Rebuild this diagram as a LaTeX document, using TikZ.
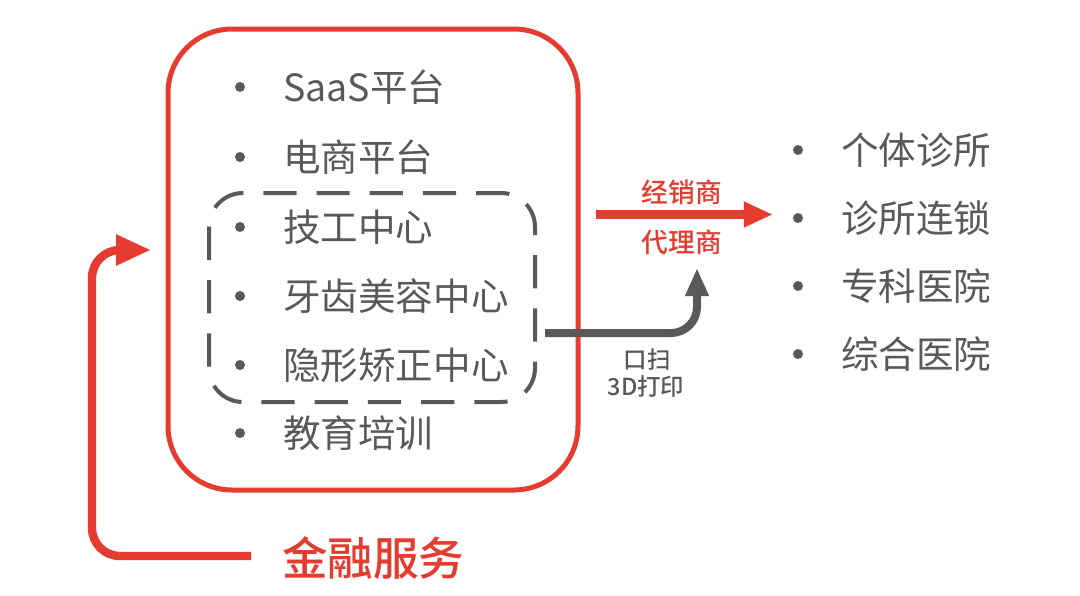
\documentclass[tikz,border=0pt]{standalone}
\usepackage{fontspec}
\setmainfont{Noto Sans CJK SC}[BoldFont={Noto Sans CJK SC Medium}]
\usetikzlibrary{arrows.meta}
\definecolor{finred}{HTML}{E53B30}
\definecolor{itemgray}{HTML}{595959}
\tikzset{
  bulletdot/.style={circle,fill=itemgray,inner sep=0pt,minimum size=2.5mm},
  item/.style={anchor=west,inner sep=0pt,text=itemgray,font=\fontsize{26.7}{30}\selectfont},
  chanlabel/.style={inner sep=0pt,text=finred,font=\bfseries\fontsize{19}{22}\selectfont},
  techlabel/.style={inner sep=0pt,text=itemgray,font=\bfseries\fontsize{16.7}{20}\selectfont},
  redarrow/.style={draw=finred,line width=2.1mm,-{Triangle[length=7.3mm,width=6mm]}},
  grayarrow/.style={draw=itemgray,line width=2mm,rounded corners=6.5mm,-{Triangle[length=7mm,width=5.5mm]}}
}
\begin{document}
\begin{tikzpicture}[x=0.025cm,y=-0.025cm]
  \useasboundingbox (0,0) rectangle (1080,595);
  \draw[finred,line width=1.25mm,rounded corners=1.6cm] (168,29) rectangle (578,490);
  \draw[itemgray,line width=1mm,dash pattern=on 8.3mm off 5mm,rounded corners=0.85cm] (209,193) rectangle (535,402);

  \node[bulletdot] (b1) at (240,87) {};
  \node[item] (saas) at (283,87) {SaaS平台};
  \node[bulletdot] (b2) at (240,157) {};
  \node[item] (shop) at (283,157) {电商平台};
  \node[bulletdot] (b3) at (240,227) {};
  \node[item] (lab) at (283,227) {技工中心};
  \node[bulletdot] (b4) at (240,296) {};
  \node[item] (beauty) at (283,296) {牙齿美容中心};
  \node[bulletdot] (b5) at (240,365) {};
  \node[item] (align) at (283,365) {隐形矫正中心};
  \node[bulletdot] (b6) at (240,433) {};
  \node[item] (edu) at (283,433) {教育培训};

  \node[bulletdot] (c1) at (798,150) {};
  \node[item] (clinic) at (841,150) {个体诊所};
  \node[bulletdot] (c2) at (798,218) {};
  \node[item] (chain) at (841,218) {诊所连锁};
  \node[bulletdot] (c3) at (798,286) {};
  \node[item] (special) at (841,286) {专科医院};
  \node[bulletdot] (c4) at (798,354) {};
  \node[item] (general) at (841,354) {综合医院};

  \coordinate (dealL) at (596,214.5);
  \coordinate (dealR) at (773,214.5);
  \draw[redarrow] (dealL) -- (dealR);
  \node[chanlabel] (dealer) at (682,192) {经销商};
  \node[chanlabel] (agent) at (682,242) {代理商};

  \coordinate (scanL) at (545,333);
  \coordinate (scanT) at (697,268);
  \draw[grayarrow] (scanL) -| (scanT);
  \node[techlabel] (scan) at (647,360) {口扫};
  \node[techlabel] (print) at (646,387) {3D打印};

  \node[anchor=west,inner sep=0pt,text=finred,font=\bfseries\fontsize{32.4}{36}\selectfont] (fin) at (282,558) {金融服务};
  \coordinate (finL) at (251,556);
  \coordinate (finT) at (151,250);
  \draw[redarrow,rounded corners=7mm,-{Triangle[length=8.7mm,width=7.2mm]}] (finL) -- (92,556) |- (finT);
\end{tikzpicture}
\end{document}
